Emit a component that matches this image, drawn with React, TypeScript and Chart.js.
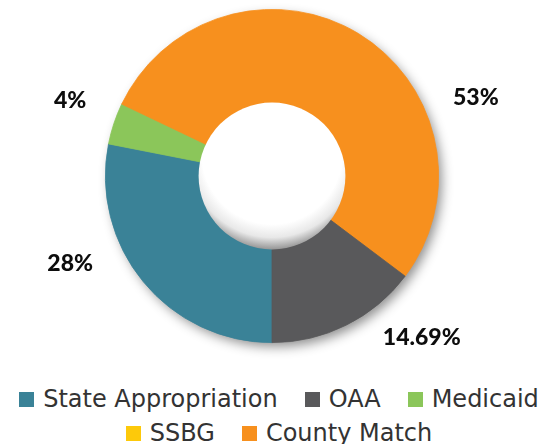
import React, { useEffect, useRef } from 'react';
import { Chart, registerables } from 'chart.js';

Chart.register(...registerables);

// ---- data (legend order) ----
const categories = ['State Appropriation', 'OAA', 'Medicaid', 'SSBG', 'County Match'];
const values = [28, 14.69, 4, 0, 53];
const colors = ['#3a8297', '#59595b', '#8bc65a', '#fdc90a', '#f7901e'];
// clockwise drawing order of the slices, starting at 6 o'clock
const drawOrder = [0, 2, 3, 4, 1];

// ---- label layout (per category): angle clockwise from 12 o'clock, gap beyond the ring ----
const labelAngles = [246.8, 137, 290.6, 0, 68.8];
const labelGaps = [53, 53, 49, 0, 52];

const decorPlugin = {
  id: 'decor',
  beforeDatasetsDraw(chart: any) {
    const arc = chart.getDatasetMeta(0).data[0];
    if (!arc) return;
    const { x, y, outerRadius } = arc.getProps(['x', 'y', 'outerRadius'], true);
    const ctx = chart.ctx;
    ctx.save();
    ctx.shadowColor = 'rgba(0,0,0,0.45)';
    ctx.shadowBlur = 12;
    ctx.shadowOffsetX = 4;
    ctx.shadowOffsetY = 5;
    ctx.fillStyle = '#8a8a8a';
    ctx.beginPath();
    ctx.arc(x, y, outerRadius - 1, 0, Math.PI * 2);
    ctx.fill();
    ctx.restore();
  },
  afterDatasetsDraw(chart: any) {
    const arc = chart.getDatasetMeta(0).data[0];
    if (!arc) return;
    const { x, y, outerRadius, innerRadius } = arc.getProps(['x', 'y', 'outerRadius', 'innerRadius'], true);
    const ctx = chart.ctx;
    ctx.save();
    const r = innerRadius;
    const gy = y - 0.3 * r;
    const g = ctx.createRadialGradient(x, gy, 0, x, gy, 1.3 * r);
    g.addColorStop(0, '#ffffff');
    g.addColorStop(0.74, '#ffffff');
    g.addColorStop(0.88, '#e8e8e8');
    g.addColorStop(1, '#9a9a9a');
    ctx.fillStyle = g;
    ctx.beginPath();
    ctx.arc(x, y, r + 0.6, 0, Math.PI * 2);
    ctx.fill();

    ctx.font = '900 23px Lato';
    ctx.textAlign = 'center';
    ctx.textBaseline = 'alphabetic';
    ctx.fillStyle = '#0d0d0d';
    drawOrder.forEach((ci) => {
      const v = values[ci];
      if (!v) return;
      const a = (labelAngles[ci] * Math.PI) / 180;
      const d = outerRadius + labelGaps[ci];
      const lx = x + d * Math.sin(a);
      const ly = y - d * Math.cos(a);
      ctx.fillText(`${v}%`, lx, ly + 8.3);
    });
    ctx.restore();
  },
};

export default function App() {
  const canvasRef = useRef<HTMLCanvasElement | null>(null);

  useEffect(() => {
    if (!canvasRef.current) return;
    const chart = new Chart(canvasRef.current, {
      type: 'doughnut',
      data: {
        labels: drawOrder.map((i) => categories[i]),
        datasets: [
          {
            data: drawOrder.map((i) => values[i]),
            backgroundColor: drawOrder.map((i) => colors[i]),
            borderColor: drawOrder.map((i) => colors[i]),
            borderWidth: drawOrder.map((i) => (values[i] ? 0.8 : 0)),
            hoverOffset: 0,
          },
        ],
      },
      options: {
        responsive: false,
        animation: false,
        rotation: 180,
        cutout: '43.7%',
        layout: { padding: { top: 9, bottom: 17, left: 0, right: 0 } },
        plugins: {
          legend: { display: false },
          tooltip: { enabled: false },
        },
      },
      plugins: [decorPlugin],
    });
    return () => chart.destroy();
  }, []);

  return (
    <div style={{ position: 'absolute', left: 0, top: 0, width: 544, height: 444, background: '#fff', overflow: 'hidden' }}>
      <canvas ref={canvasRef} width={544} height={360} style={{ display: 'block' }} />
      <div
        style={{
          position: 'absolute',
          top: 382,
          left: 0,
          width: 544,
          boxSizing: 'border-box',
          paddingLeft: 14,
          display: 'flex',
          flexWrap: 'wrap',
          justifyContent: 'center',
          columnGap: 27,
          rowGap: 0,
          fontFamily: '"DejaVu Sans", sans-serif',
          fontSize: 24,
          lineHeight: '34px',
          color: '#333333',
          whiteSpace: 'nowrap',
        }}
      >
        {categories.map((c, i) => (
          <div key={c} style={{ display: 'flex', alignItems: 'center' }}>
            <span style={{ display: 'inline-block', width: 15, height: 15, background: colors[i], marginRight: 9 }} />
            <span>{c}</span>
          </div>
        ))}
      </div>
    </div>
  );
}
